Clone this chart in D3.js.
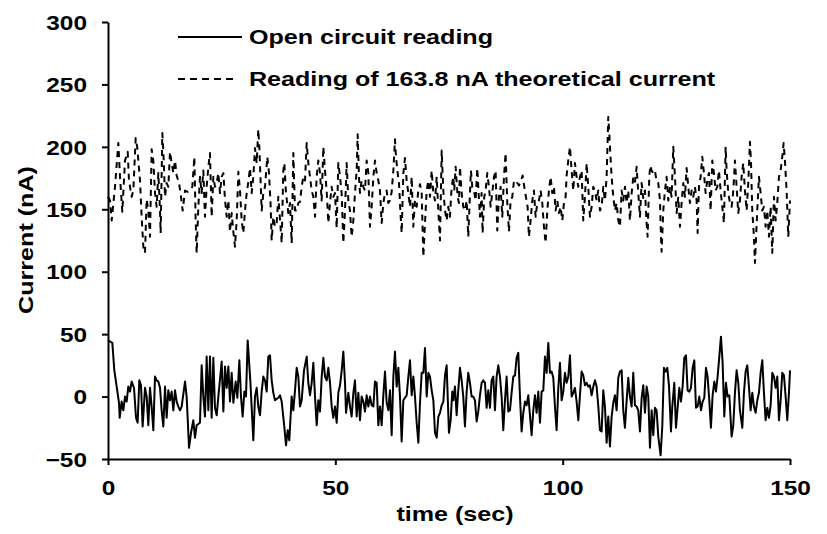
<!DOCTYPE html>
<html>
<head>
<meta charset="utf-8">
<script src="https://cdn.jsdelivr.net/npm/d3@7"></script>
<style>
  body { margin: 0; background: #fff; }
  svg text { font-family: "Liberation Sans", Arial, sans-serif; font-weight: bold; fill: #000; }
</style>
</head>
<body>
<div id="chart"></div>
<script>
// [time (sec), current (nA)], peaks and troughs
const openCircuit = [
  [0,45],[0.95,43],[1.39,21],[2.42,-5],[2.57,-17],[3.0,-4],[3.37,-11],[3.74,0],[4.1,-4],[4.47,8],[4.84,4],[5.2,12],[5.72,7],[6.16,-17],[6.52,-21],[6.89,13],[7.26,9],[7.62,-24],[8.14,7],[8.5,0],[8.87,-23],[9.24,7],[9.6,-8],[9.97,-27],[10.34,16],[10.7,13],[11.07,12],[11.44,7],[11.8,-11],[12.17,-24],[12.54,8],[12.9,-17],[13.27,5],[13.64,-3],[14.0,4],[14.37,-11],[14.74,5],[15.1,-4],[15.47,-8],[15.84,-11],[16.2,-8],[16.94,12],[17.3,0],[17.82,-41],[18.26,-29],[18.77,-19],[19.13,-33],[19.5,-23],[20.23,-21],[20.6,25],[20.97,0],[21.33,-16],[21.7,32],[22.07,-11],[22.43,32],[22.8,-17],[23.17,31],[23.53,-9],[23.9,-15],[24.27,0],[25.0,28],[25.37,-12],[25.73,24],[26.1,7],[26.47,24],[26.83,-4],[27.2,19],[27.57,-5],[28.08,12],[28.45,-1],[28.89,29],[29.25,0],[29.62,-16],[29.99,4],[30.35,0],[30.72,45],[31.3,13],[31.96,-35],[32.33,0],[32.7,7],[33.06,-8],[33.43,-15],[33.8,4],[34.16,16],[34.53,13],[34.9,4],[35.26,32],[35.63,33],[36.0,13],[36.36,3],[36.73,-3],
  [37.46,-1],[37.83,1],[38.2,-4],[38.78,-24],[39.15,-39],[39.52,-27],[39.88,-35],[40.4,0],[40.76,-11],[41.13,5],[41.5,23],[41.86,16],[42.23,-8],[42.6,-3],[43.11,21],[43.7,32],[44.06,11],[44.43,1],[44.8,11],[45.16,27],[45.53,0],[45.9,-23],[46.26,-3],[46.63,-12],[47.0,16],[47.36,31],[47.73,16],[48.1,13],[48.46,23],[48.83,11],[49.2,-8],[49.56,-17],[49.93,-8],[50.3,-21],[50.66,3],[51.03,9],[51.4,21],[51.76,36],[52.13,11],[52.35,-13],[52.86,3],[53.23,-8],[53.59,-16],[53.96,3],[54.32,13],[54.69,-16],[55.06,3],[55.42,-19],[55.79,0],[56.16,-4],[56.52,-12],[56.89,1],[57.26,-8],[57.62,0],[57.99,-7],[58.36,-8],[58.72,12],[59.09,11],[59.46,-23],[59.82,-8],[60.19,-23],[60.56,1],[60.92,20],[61.29,-5],[61.66,-11],[62.02,5],[62.39,-31],[62.76,16],[63.12,36],[63.49,8],[63.86,23],[64.22,0],[64.59,-36],[64.96,-3],[65.32,-1],[65.69,1],[66.06,16],[66.42,29],[66.79,1],[67.16,16],[67.52,0],[67.89,-21],[68.26,-37],[68.62,-5],[68.99,19],[69.36,19],[69.72,39],[70.09,0],[70.46,19],[70.82,16],[71.19,5],[71.56,-3],[71.92,-29],[72.29,-33],[72.66,-16],[73.02,-13],[73.39,-7],[73.76,-4],[74.12,17],
  [74.48,25],[74.99,-29],[75.36,-19],[75.72,4],[75.94,-3],[76.31,8],[76.68,-15],[77.04,5],[77.41,23],[77.78,13],[78.14,0],[78.51,-24],[78.88,4],[79.24,19],[79.61,11],[79.98,0],[80.34,0],[80.71,-3],[81.08,-20],[81.44,-12],[81.81,1],[82.18,11],[82.54,13],[82.91,11],[83.27,-9],[83.64,5],[84.01,-9],[84.37,13],[84.74,16],[85.11,-11],[85.47,16],[85.84,25],[86.21,16],[86.57,0],[86.94,-27],[87.31,-3],[87.67,16],[88.04,-12],[88.41,-11],[88.77,3],[89.14,16],[89.51,17],[89.87,31],[90.24,35],[90.61,0],[90.97,-28],[91.34,-13],[91.71,-4],[92.07,-7],[92.44,1],[92.81,-15],[93.17,-31],[93.54,-11],[93.91,1],[94.27,-13],[94.64,4],[95.01,-21],[95.37,4],[95.74,5],[96.11,32],[96.47,19],[96.84,43],[97.21,19],[97.57,20],[97.94,15],[98.3,-8],[98.67,-27],[99.04,7],[99.4,27],[99.77,-3],[100.14,4],[100.5,19],[100.87,11],[101.24,16],[101.6,33],[101.97,0],[102.34,3],[102.7,7],[103.07,-4],[103.44,-19],[103.8,1],[104.17,20],[104.54,17],[104.9,9],[105.27,11],[105.64,8],[106.0,9],[106.37,1],[106.74,8],[107.1,13],[107.47,8],[107.84,-8],[108.2,-27],[108.57,-28],[108.93,5],[109.3,-8],[109.67,-37],[110.03,-16],[110.4,-40],[110.77,-16],[111.13,-5],[111.5,1],[111.87,-11],[112.23,15],
  [112.6,20],[112.97,21],[113.33,-11],[113.7,-25],[114.07,-3],[114.43,15],[114.8,0],[115.17,-8],[115.53,19],[115.9,-7],[116.27,-8],[116.63,-11],[117.0,-28],[117.37,-1],[117.73,9],[118.1,-13],[118.47,8],[118.83,0],[119.2,-41],[119.57,-11],[119.93,-31],[120.3,-9],[120.66,-11],[121.03,-32],[121.54,-47],[121.91,-24],[122.28,23],[122.64,20],[123.01,23],[123.38,9],[123.82,-28],[124.11,-8],[124.55,11],[124.92,-25],[125.28,-9],[125.65,7],[126.02,-4],[126.38,8],[126.75,31],[127.12,33],[127.48,5],[127.85,4],[128.22,7],[128.58,23],[128.95,29],[129.32,-9],[129.68,-8],[130.05,0],[130.42,-11],[130.78,-4],[131.15,-1],[131.52,23],[131.88,16],[132.25,-3],[132.61,-25],[132.98,1],[133.35,12],[133.71,4],[134.08,16],[134.45,32],[134.81,48],[135.18,27],[135.55,-16],[135.91,11],[136.28,0],[136.65,1],[137.16,-32],[137.53,-23],[137.89,3],[138.26,21],[138.63,11],[138.99,-11],[139.51,-25],[139.87,3],[140.24,20],[140.61,25],[140.97,8],[141.34,-11],[141.71,3],[142.07,-8],[142.44,-13],[142.81,-3],[143.17,3],[143.54,19],[143.91,29],[144.27,3],[144.64,-19],[145.01,-9],[145.37,-17],[145.74,-7],[146.11,19],[146.47,16],[146.84,7],[147.21,16],[147.57,-19],[147.94,-3],[148.3,19],[148.67,17],[149.04,0],[149.4,-19],[149.77,3],[150,21]
];

const theoretical = [
  [0,160],[0.44,157],[0.81,141],[1.54,168],[2.27,203],[2.64,176],[3.15,148],[3.74,189],[4.33,196],[4.62,173],[5.21,160],[5.57,165],[6.09,207],[6.45,199],[7.04,173],[7.4,144],[7.77,120],[8.14,115],[8.5,158],[8.87,149],[9.24,128],[9.6,198],[9.97,189],[10.34,163],[10.7,152],[11.07,179],[11.44,149],[11.58,131],[11.95,211],[12.17,197],[12.54,160],[12.9,171],[13.27,168],[13.64,196],[14.0,187],[14.37,179],[14.74,189],[15.1,177],[15.62,171],[16.06,160],[16.42,149],[16.94,165],[17.52,164],[18.04,165],[18.55,168],[18.99,192],[19.28,141],[19.5,115],[19.87,152],[20.23,176],[20.6,163],[20.97,181],[21.33,144],[21.7,168],[22.07,184],[22.43,195],[22.8,144],[23.17,176],[23.53,168],[23.9,171],[24.27,179],[24.63,163],[25.0,176],[25.37,179],[25.73,158],[26.1,144],[26.47,157],[26.83,132],[27.2,147],[27.57,132],[27.93,120],[28.3,141],[28.67,180],[29.03,165],[29.4,141],[29.77,131],[30.13,149],[30.5,163],[30.87,172],[31.23,183],[31.6,163],[31.96,176],[32.33,199],[32.7,187],[33.06,214],[33.28,200],[33.58,171],[33.8,149],[34.16,163],[34.53,168],[35.04,192],[35.41,179],[35.78,152],[36.0,125],[36.36,144],[36.73,136],
  [37.1,139],[37.46,160],[38.05,131],[38.2,123],[38.56,181],[38.78,187],[39.15,163],[39.66,147],[40.03,155],[40.4,123],[40.76,195],[41.13,149],[41.5,149],[41.86,155],[42.23,156],[42.6,168],[42.96,176],[43.33,173],[43.7,203],[44.06,187],[44.43,176],[44.8,165],[45.16,160],[45.53,144],[45.89,176],[46.26,189],[46.63,179],[46.99,157],[47.36,200],[47.73,181],[48.09,165],[48.46,139],[48.83,155],[49.19,168],[49.56,160],[49.93,163],[50.29,135],[50.66,187],[51.03,176],[51.39,163],[51.76,123],[52.13,149],[52.49,187],[52.86,157],[53.22,149],[53.59,128],[53.96,141],[54.32,163],[54.69,181],[54.91,210],[55.2,176],[55.42,163],[55.79,173],[56.16,168],[56.52,165],[56.89,189],[57.26,179],[57.62,136],[57.99,152],[58.36,176],[58.72,189],[59.09,179],[59.46,173],[59.82,165],[60.19,139],[60.56,155],[60.92,163],[61.29,165],[61.66,155],[62.02,157],[62.39,164],[62.76,181],[63.12,206],[63.34,192],[63.71,179],[64.0,171],[64.37,144],[64.59,131],[64.96,179],[65.32,191],[65.69,173],[66.05,163],[66.42,152],[66.79,176],[67.15,136],[67.52,157],[67.89,152],[68.25,165],[68.62,170],[68.99,163],[69.35,112],[69.72,139],[70.09,165],[70.45,173],[70.82,160],[71.19,181],[71.55,163],[71.92,157],[72.29,176],[72.65,149],[73.02,125],[73.39,197],[73.75,165],[74.12,149],
  [74.48,141],[74.84,152],[75.21,144],[75.58,168],[75.94,176],[76.16,165],[76.46,184],[76.9,160],[77.19,155],[77.41,184],[77.78,163],[78.14,152],[78.51,149],[78.88,157],[79.24,128],[79.61,163],[79.83,181],[80.12,168],[80.49,165],[80.85,157],[81.22,183],[81.44,168],[81.81,144],[82.17,163],[82.39,131],[82.76,160],[83.05,165],[83.42,179],[83.79,168],[84.15,152],[84.52,163],[84.89,176],[85.25,181],[85.62,133],[85.99,160],[86.35,168],[86.72,144],[87.09,176],[87.45,195],[87.82,155],[88.19,132],[88.55,157],[88.92,160],[89.29,173],[89.65,171],[90.02,171],[90.39,169],[90.83,173],[91.19,177],[91.56,168],[91.92,160],[92.29,152],[92.58,128],[92.95,141],[93.32,157],[93.68,165],[94.05,144],[94.42,155],[94.78,157],[95.15,165],[95.52,155],[95.88,136],[96.25,123],[96.62,149],[96.98,165],[97.35,176],[97.72,163],[98.08,168],[98.45,149],[98.82,157],[99.18,147],[99.55,152],[99.92,141],[100.28,155],[100.65,160],[100.87,177],[101.23,189],[101.6,200],[101.97,181],[102.33,165],[102.7,187],[103.07,176],[103.43,168],[103.8,176],[104.17,181],[104.53,141],[104.9,160],[105.27,187],[105.63,168],[106.0,144],[106.37,152],[106.73,168],[107.1,165],[107.47,157],[107.83,165],[108.2,149],[108.57,152],[108.93,168],[109.3,157],[109.67,176],[110.03,224],[110.25,211],[110.47,195],[110.77,176],[111.13,160],[111.5,149],[111.87,155],[112.23,141],
  [112.6,136],[112.97,165],[113.33,157],[113.7,168],[114.07,155],[114.43,165],[114.8,141],[115.17,163],[115.53,176],[115.9,172],[116.27,184],[116.63,163],[117.0,144],[117.36,171],[117.73,159],[118.1,165],[118.46,139],[118.68,128],[119.05,176],[119.27,185],[119.56,181],[119.93,179],[120.3,181],[120.66,172],[121.03,171],[121.4,157],[121.62,128],[121.76,116],[122.13,149],[122.5,165],[122.86,176],[123.23,157],[123.6,168],[123.96,160],[124.33,200],[124.7,176],[125.06,147],[125.43,160],[125.8,136],[126.16,155],[126.53,171],[126.9,160],[127.26,183],[127.63,168],[127.99,155],[128.36,165],[128.73,160],[129.09,168],[129.46,157],[129.68,131],[129.97,168],[130.34,176],[130.71,192],[131.07,179],[131.44,163],[131.81,173],[132.17,179],[132.54,149],[132.91,189],[133.27,179],[133.64,165],[134.01,168],[134.37,181],[134.74,165],[135.11,152],[135.47,139],[135.84,200],[136.06,181],[136.43,163],[136.79,155],[137.16,152],[137.53,165],[137.89,189],[138.26,168],[138.62,147],[138.99,157],[139.36,176],[139.72,187],[140.09,165],[140.46,149],[140.82,171],[141.19,204],[141.41,189],[141.7,149],[142.07,128],[142.29,107],[142.8,149],[143.17,176],[143.54,163],[143.9,149],[144.27,152],[144.64,136],[145.0,149],[145.37,128],[145.74,152],[146.1,115],[146.47,160],[146.84,141],[147.2,155],[147.57,176],[147.94,181],[148.3,192],[148.6,203],[148.89,189],[149.25,165],[149.62,128],[150,157]
];

const xTicks = [0, 50, 100, 150];
const yTicks = [-50, 0, 50, 100, 150, 200, 250, 300];
const legendLabels = ["Open circuit reading", "Reading of 163.8 nA theoretical current"];

const width = 827, height = 534;
const margin = {top: 22, right: 37, bottom: 75, left: 108};
const tickStretch = 1.19;   // the lettering in the original is wide
const labelStretch = 1.225;
const fontSize = "20.5px";

const svg = d3.select("#chart").append("svg")
    .attr("width", width)
    .attr("height", height)
    .style("background", "#fff");

const x = d3.scaleLinear().domain([0, 150]).range([margin.left, width - margin.right]);
const y = d3.scaleLinear().domain([-50, 300]).range([height - margin.bottom, margin.top]);

const line = d3.line().x(d => x(d[0])).y(d => y(d[1]));

svg.append("path")
    .datum(theoretical)
    .attr("fill", "none")
    .attr("stroke", "#000")
    .attr("stroke-width", 2)
    .attr("stroke-dasharray", "6,5")
    .attr("stroke-linejoin", "round")
    .attr("d", line);

svg.append("path")
    .datum(openCircuit)
    .attr("fill", "none")
    .attr("stroke", "#000")
    .attr("stroke-width", 2)
    .attr("stroke-linejoin", "round")
    .attr("d", line);

// axes
const yAxis = svg.append("g")
    .attr("transform", `translate(${margin.left},0)`)
    .call(d3.axisLeft(y).tickValues(yTicks).tickSize(6).tickSizeOuter(0).tickFormat(d3.format("d")));

yAxis.selectAll("text")
    .attr("x", 0)
    .attr("dy", "0.35em")
    .attr("transform", `translate(-21,0) scale(${tickStretch},1)`);

const xAxis = svg.append("g")
    .attr("transform", `translate(0,${height - margin.bottom})`)
    .call(d3.axisBottom(x).tickValues(xTicks).tickSize(6).tickSizeOuter(0).tickFormat(d3.format("d")));

xAxis.selectAll("text")
    .attr("y", 0)
    .attr("dy", 0)
    .attr("transform", `translate(0,36) scale(${tickStretch},1)`);

svg.selectAll(".domain, .tick line").attr("stroke", "#000").attr("stroke-width", 2);
svg.selectAll(".tick text").style("font-size", fontSize).attr("fill", "#000");

// axis titles
svg.append("text")
    .attr("text-anchor", "middle")
    .attr("transform", `translate(455,521) scale(${labelStretch},1)`)
    .style("font-size", fontSize)
    .text("time (sec)");

svg.append("text")
    .attr("text-anchor", "middle")
    .attr("transform", `translate(33,240) rotate(-90) scale(${labelStretch},1)`)
    .style("font-size", fontSize)
    .text("Current (nA)");

// legend
const legend = svg.append("g");
legendLabels.forEach((label, i) => {
    const ly = i === 0 ? 37 : 79;
    legend.append("line")
        .attr("x1", 178).attr("x2", i === 0 ? 242 : 238)
        .attr("y1", ly).attr("y2", ly)
        .attr("stroke", "#000")
        .attr("stroke-width", 2)
        .attr("stroke-dasharray", i === 0 ? null : "7,5");
    legend.append("text")
        .attr("transform", `translate(249,${ly + 7}) scale(${labelStretch},1)`)
        .style("font-size", fontSize)
        .text(label);
});
</script>
</body>
</html>
